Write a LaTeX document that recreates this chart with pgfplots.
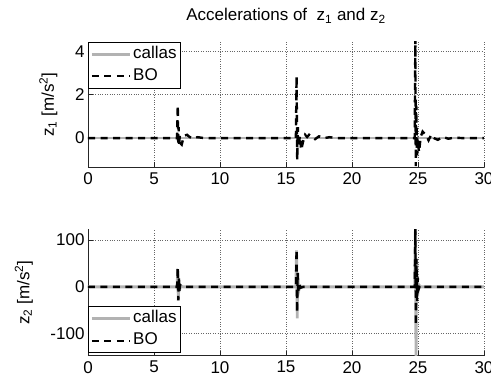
\documentclass[border=0pt]{standalone}
\usepackage{fontspec}
\setmainfont{Liberation Sans}
\usepackage{pgfplots}
\pgfplotsset{compat=1.18}
\definecolor{callasgray}{RGB}{178,178,178}
\pgfplotsset{
  myaxis/.style={
    scale only axis, width=396pt, xmin=0, xmax=30,
    axis x line*=bottom, axis y line*=left,
    tick align=inside, major tick length=5pt,
    xtick={0,5,...,30},
    grid=major, major grid style={dotted, black!60, line width=0.6pt},
    axis line style={black!85, line width=0.8pt},
    tick style={black!85, line width=0.8pt},
    /pgf/number format/assume math mode=true,
    tick label style={font=\fontsize{17}{19}\selectfont},
    label style={font=\fontsize{17}{19}\selectfont},
    xticklabel style={yshift=-2pt},
    legend cell align=left,
    legend image code/.code={\draw[#1] (6pt,0pt) -- (44pt,0pt);},
    clip=true,
  },
  mylegend/.style={legend style={font=\fontsize{17}{19}\selectfont, draw=black, line width=0.8pt,
      inner xsep=2pt, inner ysep=3pt, row sep=4pt,
      nodes={inner xsep=2pt, inner ysep=0pt, text height=13pt, text depth=5pt},
      /tikz/every even column/.append style={column sep=0pt}}},
  gline/.style={color=callasgray, line width=2.8pt},
  bline/.style={color=black, line width=2.4pt, dash pattern=on 7pt off 5.5pt},
}
\begin{document}
\begin{tikzpicture}
\path[use as bounding box] (0,0) rectangle (491pt,383pt);
\node[font=\fontsize{17}{19}\selectfont] at (286pt,367pt) {Accelerations of\ \ z\textsubscript{1} and z\textsubscript{2}};
\begin{axis}[myaxis, at={(88pt,215.7pt)}, anchor=south west, height=125.6pt,
  ymin=-1.35, ymax=4.45, ytick={0,2,4},
  ylabel={z\textsubscript{1} [m/s\textsuperscript{2}]}, ylabel style={at={(axis description cs:-0.1,0.5)}, anchor=center},
  mylegend, legend style={at={(0,1)}, anchor=north west}]
\addplot[gline] coordinates {(0,0) (30,0)};
\addlegendentry{callas}
\addplot[bline] coordinates {
(0,0) (6.75,0) (6.8,1.5) (6.83,-0.3) (6.87,0.5) (6.9,-0.35) (6.95,0.1) (7.02,-0.25) (7.1,-0.3) (7.2,-0.05) (7.35,0.12) (7.5,0.15) (7.7,0.05) (7.9,-0.02) (8.3,0.04) (8.8,0)
(15.75,0) (15.8,2.85) (15.85,-1.0) (15.9,0.5) (15.95,-0.4) (16.05,0.1) (16.15,-0.55) (16.3,-0.15) (16.45,0.15) (16.6,0.05) (16.75,0.15) (16.95,0.05) (17.2,-0.05) (17.5,0.08) (17.9,0) (18.3,0.04) (18.8,0)
(24.75,0) (24.8,4.6) (24.83,-1.3) (24.87,1.5) (24.92,-0.8) (25.0,-0.3) (25.08,-0.65) (25.2,0.05) (25.35,0.3) (25.5,0.2) (25.65,0.1) (25.8,-0.1) (26.0,0.15) (26.2,0.0) (26.5,-0.08) (26.9,0.05) (27.3,-0.03) (27.8,0.02) (28.3,0) (30,0)};
\addlegendentry{BO}
\end{axis}
\begin{axis}[myaxis, at={(88pt,27.3pt)}, anchor=south west, height=126.4pt,
  ymin=-147, ymax=123, ytick={-100,0,100},
  ylabel={z\textsubscript{2} [m/s\textsuperscript{2}]}, ylabel style={at={(axis description cs:-0.162,0.5)}, anchor=center},
  mylegend, legend style={at={(axis description cs:0,0.02)}, anchor=south west}]
\addplot[gline] coordinates {
(0,0) (6.75,0) (6.8,38) (6.84,-30) (6.9,15) (6.95,-5) (7.05,2) (7.2,0)
(15.75,0) (15.8,78) (15.85,-67) (15.9,30) (15.95,-10) (16.05,3) (16.2,0)
(24.75,0) (24.8,118) (24.85,-160) (24.9,60) (24.97,-20) (25.05,5) (25.2,0) (30,0)};
\addlegendentry{callas}
\addplot[bline] coordinates {
(0,0) (6.75,0) (6.8,42) (6.84,-28) (6.88,18) (6.92,-8) (6.98,4) (7.1,1) (7.3,0)
(15.75,0) (15.8,80) (15.84,-55) (15.88,30) (15.93,-8) (16.0,5) (16.1,-2) (16.3,0)
(24.75,0) (24.8,125) (24.84,-82) (24.88,60) (24.93,-30) (24.98,20) (25.05,-5) (25.15,3) (25.3,0) (30,0)};
\addlegendentry{BO}
\end{axis}
\end{tikzpicture}
\end{document}
